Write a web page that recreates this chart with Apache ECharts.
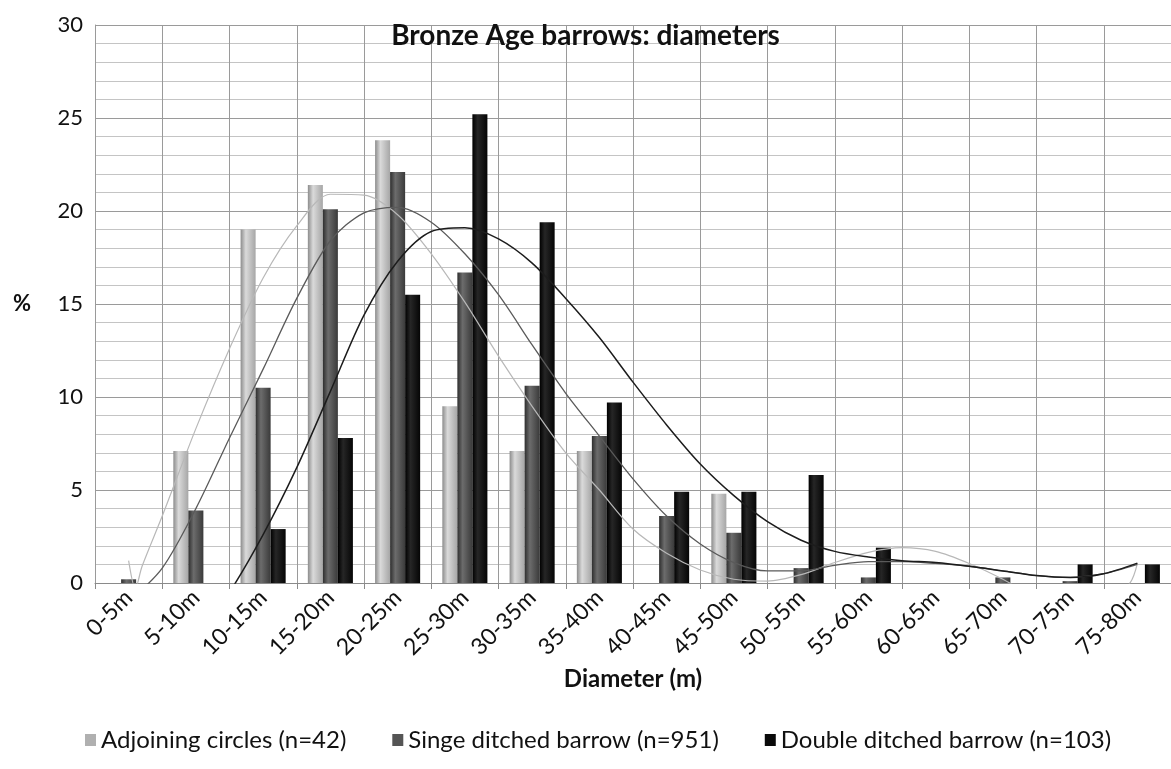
<!DOCTYPE html>
<html>
<head>
<meta charset="utf-8">
<script src="https://cdn.jsdelivr.net/npm/echarts@6/dist/echarts.min.js"></script>
<style>html,body{margin:0;padding:0;background:#fff}#c{width:1171px;height:769px}</style>
</head>
<body>
<div id="c"></div>
<script>
const categories = ['0-5m','5-10m','10-15m','15-20m','20-25m','25-30m','30-35m','35-40m','40-45m','45-50m','50-55m','55-60m','60-65m','65-70m','70-75m','75-80m'];
const seriesNames = ['Adjoining circles (n=42)','Singe ditched barrow (n=951)','Double ditched barrow (n=103)'];
const adjoining = [0, 7.1, 19.0, 21.4, 23.8, 9.5, 7.1, 7.1, 0, 4.8, 0, 0, 0, 0, 0, 0];
const singleDitched = [0.2, 3.9, 10.5, 20.1, 22.1, 16.7, 10.6, 7.9, 3.6, 2.7, 0.8, 0.3, 0, 0.3, 0.1, 0];
const doubleDitched = [0, 0, 2.9, 7.8, 15.5, 25.2, 19.4, 9.7, 4.9, 4.9, 5.8, 1.9, 0, 0, 1.0, 1.0];
const yTicks = [0, 5, 10, 15, 20, 25, 30];
// trend curves: [position in category widths from the left edge, %]
const trendAdjoining = [[0.5,1.2],[0.6,-0.3],[0.7,0.9],[1.0,3.6],[1.5,8.3],[2.0,12.6],[2.5,16.4],[3.0,19.2],[3.5,20.9],[4.0,20.85],[4.5,19.8],[5.0,17.7],[5.5,15.1],[6.0,12.2],[6.5,9.5],[7.0,7.0],[7.5,5.0],[8.0,2.9],[8.5,1.6],[9.0,0.7],[9.5,0.2],[10.0,0.1],[10.5,0.45],[11.0,1.1],[11.5,1.65],[12.0,1.9],[12.5,1.7],[13.0,1.05],[13.5,0.2],[14.0,-0.8],[14.5,-1.4],[15.0,-1.2],[15.39,0],[15.5,1.05]];
const trendSingle = [[0.5,-1.0],[1.0,0.8],[1.5,4.0],[2.0,7.8],[2.5,11.5],[3.0,15.3],[3.5,18.4],[4.0,19.9],[4.5,20.2],[5.0,19.4],[5.5,17.7],[6.0,15.5],[6.5,12.8],[7.0,10.2],[7.5,7.9],[8.0,5.6],[8.5,3.6],[9.0,2.1],[9.5,1.1],[10.0,0.65],[10.5,0.65],[11.0,0.95],[11.5,1.15],[12.0,1.15],[12.5,1.05],[13.0,0.9],[13.5,0.65],[14.0,0.4],[14.5,0.3],[15.0,0.5],[15.5,1.0]];
const trendDouble = [[1.5,-3.0],[2.0,-0.5],[2.5,2.6],[3.0,6.2],[3.5,10.3],[4.0,14.4],[4.5,17.3],[5.0,18.9],[5.5,19.1],[6.0,18.5],[6.5,17.2],[7.0,15.3],[7.5,13.2],[8.0,10.8],[8.5,8.5],[9.0,6.4],[9.5,4.7],[10.0,3.3],[10.5,2.3],[11.0,1.7],[11.5,1.4],[12.0,1.2],[12.5,1.1],[13.0,0.9],[13.5,0.65],[14.0,0.4],[14.5,0.3],[15.0,0.5],[15.5,1.07]];

const FONT = 'Lato';
function grad(a, b, c) {
  return new echarts.graphic.LinearGradient(0, 0, 1, 0, [
    {offset: 0, color: a}, {offset: 0.35, color: b}, {offset: 1, color: c}
  ]);
}
const barColors = [grad('#8c8c8c', '#dadada', '#a6a6a6'), grad('#2e2e2e', '#6c6c6c', '#3a3a3a'), grad('#000000', '#262626', '#050505')];
const legendColors = ['#b0b0b0', '#555555', '#0a0a0a'];
const barData = [adjoining, singleDitched, doubleDitched];

const chart = echarts.init(document.getElementById('c'));
const series = barData.map((d, i) => ({
  name: seriesNames[i], type: 'bar', xAxisIndex: 0, yAxisIndex: 0,
  data: d, barGap: '0%', barCategoryGap: '33%',
  itemStyle: {color: barColors[i], borderWidth: 0},
  z: 2
}));
const trends = [trendAdjoining, trendSingle, trendDouble];
const trendColors = ['#b8b8b8', '#5a5a5a', '#1c1c1c'];
const trendWidths = [1.2, 1.3, 1.5];
trends.forEach((t, i) => series.push({
  name: 'trend' + i, type: 'line', xAxisIndex: 1, yAxisIndex: 0,
  data: t, smooth: 0.3, showSymbol: false, clip: true, silent: true,
  lineStyle: {color: trendColors[i], width: trendWidths[i]}, z: 3
}));

chart.setOption({
  animation: false,
  backgroundColor: '#fff',
  title: {text: 'Bronze Age barrows: diameters', left: 'center', top: 17,
    textStyle: {fontFamily: FONT, fontWeight: 'bold', fontSize: 28, color: '#111'}},
  legend: {data: seriesNames.map((n, i) => ({name: n, itemStyle: {color: legendColors[i]}})),
    bottom: 12, left: 80, itemGap: 46, itemWidth: 11, itemHeight: 12, icon: 'rect',
    textStyle: {fontFamily: FONT, fontSize: 24, color: '#111'}},
  grid: {left: 95, top: 25, right: -7, bottom: 186},
  xAxis: [{
    type: 'category', data: categories, boundaryGap: true,
    name: 'Diameter (m)', nameLocation: 'middle', nameGap: 84,
    nameTextStyle: {fontFamily: FONT, fontWeight: 'bold', fontSize: 24, color: '#111'},
    axisLine: {lineStyle: {color: '#8a8a8a', width: 1}},
    axisTick: {show: true, length: 6, lineStyle: {color: '#8a8a8a'}},
    axisLabel: {rotate: 45, fontFamily: FONT, fontSize: 23, color: '#111', margin: 11, interval: 0},
    splitLine: {show: true, lineStyle: {color: '#9a9a9a', width: 1}}
  }, {
    type: 'value', min: 0, max: 16, show: false,
    axisLine: {show: false}, axisLabel: {show: false}, splitLine: {show: false}
  }],
  yAxis: [{
    type: 'value', min: yTicks[0], max: yTicks[yTicks.length - 1], interval: 5,
    name: '%', nameLocation: 'middle', nameRotate: 0, nameGap: 64,
    nameTextStyle: {fontFamily: FONT, fontWeight: 'bold', fontSize: 22, color: '#111', padding: [16, 0, 0, 0]},
    axisLine: {show: true, lineStyle: {color: '#9a9a9a'}},
    axisTick: {show: false},
    axisLabel: {fontFamily: FONT, fontSize: 22, color: '#111', margin: 12},
    splitLine: {show: true, lineStyle: {color: '#9a9a9a', width: 1.2}},
    minorTick: {show: false, splitNumber: 5},
    minorSplitLine: {show: true, lineStyle: {color: '#c4c4c4', width: 1}}
  }],
  series: series
});
</script>
</body>
</html>
